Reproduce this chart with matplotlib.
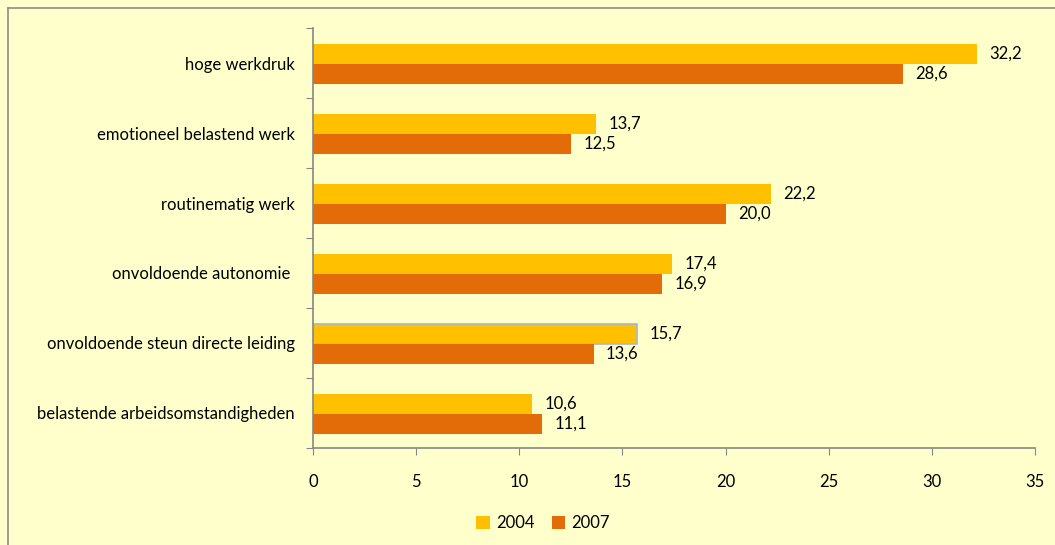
import matplotlib
matplotlib.use('Agg')
import matplotlib.pyplot as plt
import numpy as np
from matplotlib.lines import Line2D

plt.rcParams['font.family'] = ['Lato', 'DejaVu Sans']
plt.rcParams['font.size'] = 12

# data (top to bottom)
categories = ['hoge werkdruk', 'emotioneel belastend werk', 'routinematig werk',
              'onvoldoende autonomie ', 'onvoldoende steun directe leiding',
              'belastende arbeidsomstandigheden']
vals_2004 = [32.2, 13.7, 22.2, 17.4, 15.7, 10.6]
vals_2007 = [28.6, 12.5, 20.0, 16.9, 13.6, 11.1]

c2004 = '#FFC000'
c2007 = '#E36C09'
bg = '#FFFFCC'
axis_col = '#868686'

fig = plt.figure(figsize=(10.55, 5.45), dpi=100, facecolor=bg)
ax = fig.add_axes([0.2967, 0.178, 0.6843, 0.7706])
ax.set_facecolor(bg)

n = len(categories)
y = n - 1 - np.arange(n)
h = 0.286

b1 = ax.barh(y + h/2 - 0.015, vals_2004, h, color=c2004, label='2004')
b2 = ax.barh(y - h/2 - 0.015, vals_2007, h, color=c2007, label='2007')
# selected-looking outline on one bar as in the original
b1[4].set_edgecolor('#A9B8C8')
b1[4].set_linewidth(1.2)

def fmt(v):
    return f'{v:.1f}'.replace('.', ',')

for bars in (b1, b2):
    for bar in bars:
        w = bar.get_width()
        ax.annotate(fmt(w), xy=(w, bar.get_y() + bar.get_height()/2),
                    xytext=(9, 0), textcoords='offset points',
                    ha='left', va='center', fontsize=12, color='black')

ax.set_xlim(0, 35)
ax.set_ylim(-0.5, n - 0.5)
ax.set_xticks(np.arange(0, 36, 5))
ax.tick_params(axis='x', direction='out', length=5, color=axis_col, pad=14, labelsize=12)

ax.set_yticks(np.arange(-0.5, n, 1.0))
ax.set_yticklabels([])
ax.tick_params(axis='y', which='major', direction='out', length=5, color=axis_col)
ax.set_yticks(y, minor=True)
ax.set_yticklabels(categories, minor=True)
ax.tick_params(axis='y', which='minor', length=0, pad=13, labelsize=12)

for s in ('top', 'right'):
    ax.spines[s].set_visible(False)
for s in ('left', 'bottom'):
    ax.spines[s].set_color(axis_col)
    ax.spines[s].set_linewidth(1.2)

# outer chart border (left and top edges visible)
fig.add_artist(Line2D([8/1055, 8/1055], [0, 1 - 8/545], transform=fig.transFigure,
                      color='#8C8C8C', lw=1.2))
fig.add_artist(Line2D([8/1055, 1], [1 - 8/545, 1 - 8/545], transform=fig.transFigure,
                      color='#8C8C8C', lw=1.2))

leg = fig.legend(handles=[b1, b2], labels=['2004', '2007'], loc='center',
                 bbox_to_anchor=(0.515, 0.04), ncol=2, frameon=False,
                 handlelength=0.8, handleheight=0.8, handletextpad=0.4,
                 columnspacing=1.0, fontsize=12)
for p in leg.get_patches():
    p.set_edgecolor('none')

fig.savefig('out.png', dpi=100, facecolor=bg)
